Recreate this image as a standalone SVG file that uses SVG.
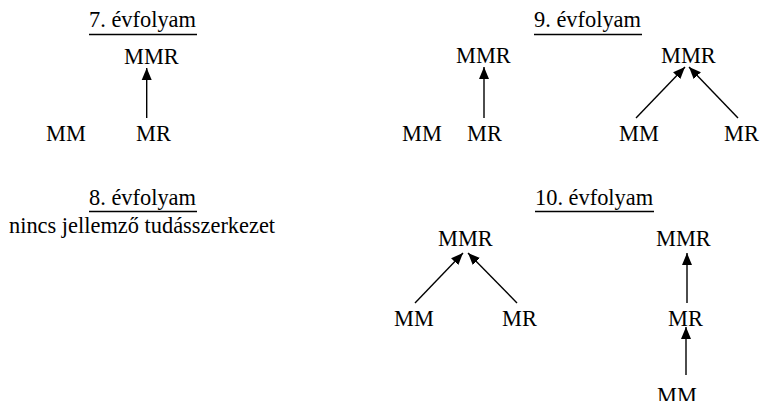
<svg xmlns="http://www.w3.org/2000/svg" width="762" height="401" viewBox="0 0 762 401">
<style>
text{font-family:"Liberation Serif","Times New Roman",serif;font-size:22.4px;fill:#000}
.c line{stroke:#000;stroke-width:1.4}
.u{stroke:#000;stroke-width:1.6}
</style>
<defs>
<marker id="ah" markerUnits="userSpaceOnUse" markerWidth="12" markerHeight="12" viewBox="0 0 12 10" refX="12" refY="5" orient="auto">
<path d="M0,0 L12,5 L0,10 z" fill="#000"/>
</marker>
</defs>
<rect width="762" height="401" fill="#fff"/>
<g id="title7"><text x="89" y="27">7. évfolyam</text><line class="u" x1="89" y1="34.5" x2="197" y2="34.5"/></g>
<g id="g7-mmr"><text x="124" y="64">MMR</text></g>
<g id="g7-mm"><text x="46" y="141">MM</text></g>
<g id="g7-mr"><text x="136" y="141">MR</text></g>

<g id="title9"><text x="534" y="27">9. évfolyam</text><line class="u" x1="534" y1="34.5" x2="642" y2="34.5"/></g>
<g id="g9a-mmr"><text x="456" y="63">MMR</text></g>
<g id="g9a-mm"><text x="402" y="141">MM</text></g>
<g id="g9a-mr"><text x="467" y="141">MR</text></g>
<g id="g9b-mmr"><text x="661" y="63">MMR</text></g>
<g id="g9b-mm"><text x="619" y="141">MM</text></g>
<g id="g9b-mr"><text x="724" y="141">MR</text></g>

<g id="title8"><text x="89" y="205">8. évfolyam</text><line class="u" x1="89" y1="211.5" x2="197" y2="211.5"/></g>
<g id="note8"><text x="9" y="233">nincs jellemző tudásszerkezet</text></g>

<g id="title10"><text x="535" y="205">10. évfolyam</text><line class="u" x1="535" y1="211.5" x2="654" y2="211.5"/></g>
<g id="g10a-mmr"><text x="438" y="246">MMR</text></g>
<g id="g10a-mm"><text x="394" y="326">MM</text></g>
<g id="g10a-mr"><text x="502" y="326">MR</text></g>
<g id="g10b-mmr"><text x="656" y="246">MMR</text></g>
<g id="g10b-mr"><text x="668" y="326">MR</text></g>
<g id="g10b-mm"><text x="657" y="403">MM</text></g>

<g id="connectors" class="c">
<line x1="146.7" y1="118" x2="146.7" y2="68" marker-end="url(#ah)"/>
<line x1="484" y1="118" x2="484" y2="67" marker-end="url(#ah)"/>
<line x1="636" y1="118" x2="685" y2="67" marker-end="url(#ah)"/>
<line x1="738" y1="118" x2="689" y2="67" marker-end="url(#ah)"/>
<line x1="415" y1="303" x2="463" y2="253" marker-end="url(#ah)"/>
<line x1="517" y1="303" x2="468" y2="253" marker-end="url(#ah)"/>
<line x1="687" y1="303" x2="687" y2="253" marker-end="url(#ah)"/>
<line x1="686" y1="375" x2="686" y2="327" marker-end="url(#ah)"/>
</g>
</svg>
